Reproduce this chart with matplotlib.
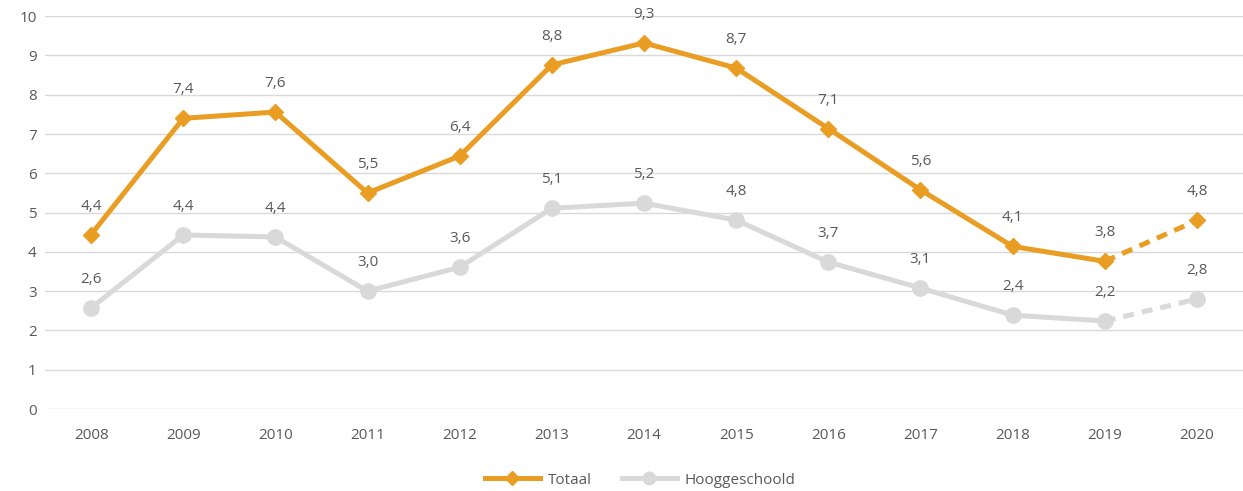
import numpy as np
import matplotlib.pyplot as plt
from matplotlib.lines import Line2D

plt.rcParams['font.family'] = ['Open Sans', 'DejaVu Sans']

# data
years = ['2008', '2009', '2010', '2011', '2012', '2013', '2014',
         '2015', '2016', '2017', '2018', '2019', '2020']
totaal = [4.44, 7.40, 7.56, 5.50, 6.44, 8.76, 9.32, 8.68, 7.14, 5.58, 4.14, 3.76, 4.80]
hoog = [2.57, 4.43, 4.38, 3.00, 3.61, 5.11, 5.24, 4.81, 3.74, 3.08, 2.39, 2.24, 2.80]

orange = '#E99D23'
grey = '#D9D9D9'
txt = '#595959'
fs = 11

fig = plt.figure(figsize=(12.43, 4.91), dpi=100)
ax = fig.add_axes([0.0362, 0.167, 0.9638, 0.80])

x = np.arange(len(years))

for vals, col, mk, ms in [(hoog, grey, 'o', 11), (totaal, orange, 'D', 8)]:
    # solid part up to 2019, dashed to 2020
    ax.plot(x[:-1], vals[:-1], color=col, lw=3.6, marker=mk, ms=ms,
            solid_joinstyle='round', zorder=3)
    ax.plot(x[-2:], vals[-2:], color=col, lw=3.6, ls=(0, (2.2, 1.6)), zorder=2)
    ax.plot(x[-1:], vals[-1:], color=col, marker=mk, ms=ms, ls='none', zorder=3)
    for xi, v in zip(x, vals):
        ax.annotate(f'{v:.1f}'.replace('.', ','), (xi, v), xytext=(0, 20.5),
                    textcoords='offset points', ha='center', va='center',
                    fontsize=fs, color=txt)

ax.set_xlim(-0.5, len(years) - 0.5)
ax.set_ylim(0, 10)
ax.set_yticks(range(0, 11))
ax.set_xticks(x)
ax.set_xticklabels(years)
ax.tick_params(length=0, labelsize=fs, colors=txt)
ax.tick_params(axis='x', pad=14)
ax.tick_params(axis='y', pad=6)
ax.grid(axis='y', color=grey, lw=1)
ax.set_axisbelow(True)
for s in ax.spines.values():
    s.set_visible(False)

handles = [Line2D([], [], color=orange, lw=3.6, marker='D', ms=7),
           Line2D([], [], color=grey, lw=3.6, marker='o', ms=9)]
leg = fig.legend(handles, ['Totaal', 'Hooggeschoold'], loc='center',
                 bbox_to_anchor=(0.515, 0.022), ncol=2, frameon=False,
                 fontsize=fs, handlelength=3.6, columnspacing=2.0,
                 handletextpad=0.5)
for t in leg.get_texts():
    t.set_color(txt)

fig.savefig('out.png', dpi=100)
